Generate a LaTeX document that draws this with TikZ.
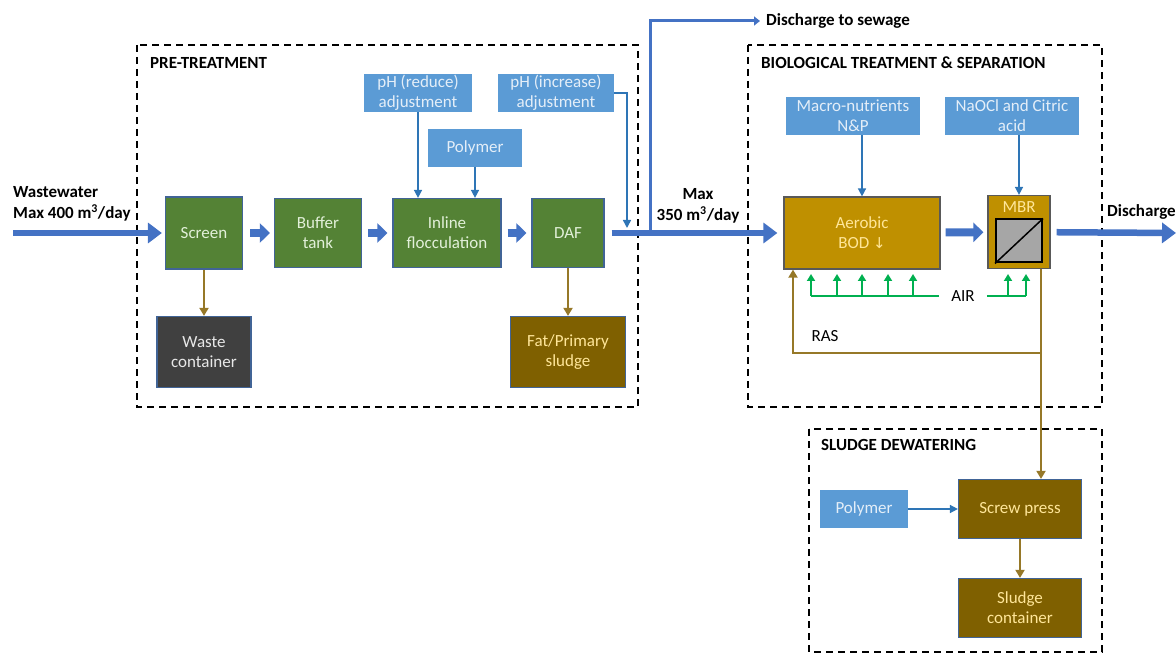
\documentclass[tikz,border=0pt]{standalone}
\usepackage{fontspec}
\setmainfont{Carlito}
\newfontfamily\arrowfont{DejaVu Sans}
\usetikzlibrary{shapes, arrows.meta, positioning}
\definecolor{pipeblue}{RGB}{68,114,196}
\definecolor{doseblue}{RGB}{46,117,182}
\definecolor{chemblue}{RGB}{91,155,213}
\definecolor{chemtext}{RGB}{228,238,248}
\definecolor{procgreen}{RGB}{84,130,53}
\definecolor{greentext}{RGB}{226,240,217}
\definecolor{sludgebrown}{RGB}{127,96,0}
\definecolor{browntext}{RGB}{255,230,153}
\definecolor{aerogold}{RGB}{191,144,0}
\definecolor{wastegrey}{RGB}{64,64,64}
\definecolor{wastetext}{RGB}{232,232,232}
\definecolor{edgeblue}{RGB}{65,100,150}
\definecolor{edgegrey}{RGB}{89,89,89}
\definecolor{rasbrown}{RGB}{150,120,40}
\definecolor{airgreen}{RGB}{0,176,80}
\definecolor{memgrey}{RGB}{166,166,166}
\tikzstyle{every node}=[font=\fontsize{17}{20}\selectfont]
\tikzstyle{block}=[draw,rectangle,align=center,inner sep=0pt,line width=1.2pt]
\tikzstyle{proc}=[block,draw=edgeblue,fill=procgreen,text=greentext]
\tikzstyle{chem}=[block,draw=chemblue,fill=chemblue,text=chemtext]
\tikzstyle{sludge}=[block,draw=edgeblue,fill=sludgebrown,text=browntext]
\tikzstyle{bio}=[block,draw=edgegrey,fill=aerogold,text=browntext]
\tikzstyle{frame}=[draw,line width=1.8pt,dash pattern=on 7pt off 5pt]
\tikzstyle{title}=[font=\fontsize{17}{21}\selectfont\bfseries,anchor=west,align=left,inner sep=0pt]
\tikzstyle{pipe}=[draw=pipeblue,line width=6.5pt,-{Triangle[length=14pt,width=20pt]}]
\tikzstyle{fat}=[draw=pipeblue,line width=8pt,-{Triangle[length=10pt,width=19pt]}]
\tikzstyle{branch}=[draw=pipeblue,line width=3pt,-{Triangle[length=6pt,width=9pt]}]
\tikzstyle{dose}=[draw=doseblue,line width=1.5pt,-{Triangle[length=8pt,width=8pt]}]
\tikzstyle{waste}=[draw=rasbrown,line width=1.8pt,-{Triangle[length=8pt,width=9pt]}]
\tikzstyle{airup}=[draw=airgreen,line width=1.8pt,-{Triangle[length=7pt,width=8pt]}]
\tikzstyle{airline}=[draw=airgreen,line width=1.8pt]

\begin{document}
\begin{tikzpicture}[x=1pt,y=-1pt]
  \useasboundingbox (0,0) rectangle (1176,655);

  \draw[frame] (137,45) rectangle (638,407);
  \draw[frame] (748,45) rectangle (1102,407);
  \draw[frame] (809,429) rectangle (1102,652);
  \node[title] (pret) at (150,63) {PRE-TREATMENT};
  \node[title] (biot) at (761,63) {BIOLOGICAL TREATMENT \& SEPARATION};
  \node[title] (dewt) at (821,445) {SLUDGE DEWATERING};

  \node[proc, minimum width=77pt, minimum height=72pt] (scr) at (204,233) {Screen};
  \node[proc, minimum width=87pt, minimum height=69pt, node distance=114pt, right of=scr] (buf) {Buffer\\tank};
  \node[proc, minimum width=108pt, minimum height=69pt, node distance=129pt, right of=buf] (inl) {Inline\\flocculation};
  \node[proc, minimum width=72pt, minimum height=69pt, node distance=121pt, right of=inl] (daf) {DAF};
  \node[block, draw=edgeblue, fill=wastegrey, text=wastetext, minimum width=94pt, minimum height=71pt, node distance=119pt, below of=scr] (wst) {Waste\\container};
  \node[sludge, minimum width=115pt, minimum height=71pt, node distance=119pt, below of=daf] (fat) {Fat/Primary\\sludge};

  \node[chem, minimum width=106pt, minimum height=37pt] (phr) at (418,93) {pH (reduce)\\adjustment};
  \node[chem, minimum width=92pt, minimum height=36pt] (pol) at (475,148) {Polymer};
  \node[chem, minimum width=115pt, minimum height=37pt] (phi) at (556,93) {pH (increase)\\adjustment};

  \node[bio, minimum width=156pt, minimum height=72pt] (aer) at (862,233) {Aerobic\\BOD {\arrowfont\fontsize{15}{18}\selectfont ↓}};
  \node[bio, minimum width=62pt, minimum height=73pt] (mbr) at (1019,232) {};
  \node[text=browntext] (mbrt) at (1019,207) {MBR};
  \node[draw=black, line width=2pt, fill=memgrey, minimum width=46pt, minimum height=43pt, inner sep=0pt] (mem) at (1019,241) {};
  \draw[line width=1.5pt] (mem.south west) -- (mem.north east);
  \node[chem, minimum width=133pt, minimum height=37pt] (mac) at (853,116) {Macro-nutrients\\N\&P};
  \node[chem, minimum width=133pt, minimum height=37pt] (nao) at (1012,116) {NaOCl and Citric\\acid};

  \node[chem, minimum width=86pt, minimum height=36pt] (spol) at (864,509) {Polymer};
  \node[sludge, minimum width=123pt, minimum height=59pt] (scp) at (1020,509) {Screw press};
  \node[sludge, minimum width=123pt, minimum height=59pt, node distance=99pt, below of=scp] (scon) {Sludge\\container};

  \node[title] (wwl) at (13,204) {Wastewater\\Max 400 m\textsuperscript{3}/day};
  \node[title, anchor=center, align=center] (maxl) at (698,206) {Max\\350 m\textsuperscript{3}/day};
  \node[title] (sew) at (766,21) {Discharge to sewage};
  \node[title] (dis) at (1107,212) {Discharge};
  \node (ras) at (825,336) {RAS};
  \node[inner xsep=12pt] (air) at (963,296) {AIR};

  \coordinate (src) at (13,233);
  \coordinate (tee) at (650,233);
  \coordinate (phin) at (627,228);
  \coordinate (dout) at (1176,233);
  \coordinate (rasr) at (1041,353);
  \coordinate (rasl) at (793,353);
  \coordinate (airl) at (811,296);
  \coordinate (airr) at (1026,296);

  \draw[branch, shorten >=6pt] (tee) |- (sew.west);
  \draw[pipe, shorten >=3pt] (src) -- (scr);
  \draw[fat, shorten <=7pt, shorten >=4pt] (scr) -- (buf);
  \draw[fat, shorten <=6pt, shorten >=5pt] (buf) -- (inl);
  \draw[fat, shorten <=6pt, shorten >=5pt] (inl) -- (daf);
  \draw[pipe, shorten <=7pt, shorten >=6pt] (daf) -- (aer);
  \draw[fat, shorten <=5pt, shorten >=4pt] (aer) -- (mbr);
  \draw[pipe, shorten <=6pt] (mbr) -- (dout);

  \draw[dose] (phr) -- (phr |- inl.north);
  \draw[dose] (pol) -- (pol |- inl.north);
  \draw[dose] (phi.east) -| (phin);
  \draw[dose] (mac.south -| aer.north) -- (aer.north);
  \draw[dose] (nao.south -| mbr.north) -- (mbr.north);
  \draw[dose] (spol) -- (scp);

  \draw[waste] (scr) -- (wst);
  \draw[waste] (daf) -- (daf |- fat.north);
  \draw[waste] (mbr.south -| rasr) -- (rasr) -- (rasl) -- (rasl |- aer.south);
  \draw[waste] (rasr) -- (rasr |- scp.north);
  \draw[waste] (scp) -- (scon);

  \draw[airline] (air.west) -- (airl);
  \draw[airline] (air.east) -- (airr);
  \foreach \x in {811,837,862,888,913,1008,1026}
    \draw[airup] (\x,296) -- (\x,274);
\end{tikzpicture}
\end{document}
